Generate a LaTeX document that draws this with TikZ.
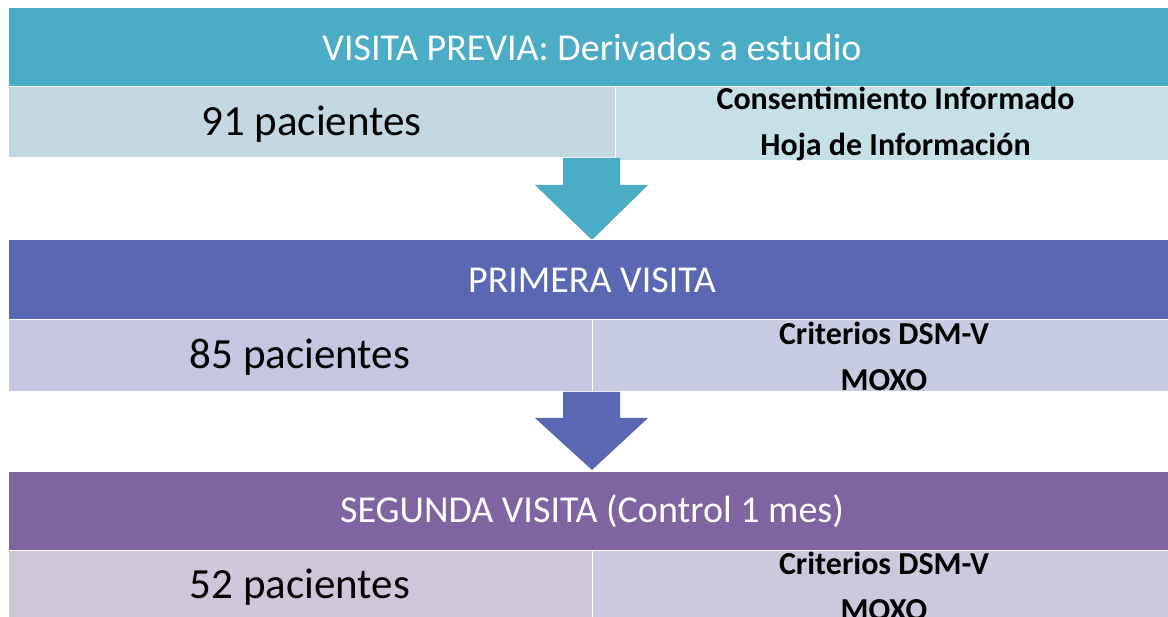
\documentclass[tikz,border=0pt]{standalone}
\usepackage{fontspec}
\setmainfont{Carlito}
\definecolor{hA}{HTML}{4BACC6}
\definecolor{hB}{HTML}{5A67B3}
\definecolor{hC}{HTML}{8064A2}
\definecolor{lA}{HTML}{C4D8E4}
\definecolor{rA}{HTML}{C6E0E8}
\definecolor{lB}{HTML}{C4C6E2}
\definecolor{rB}{HTML}{C8CCE3}
\definecolor{lC}{HTML}{CFC6DC}
\definecolor{rC}{HTML}{CDC8DD}
\tikzset{
  cell/.style={anchor=north west, inner sep=0pt, outer sep=0pt, draw=white, line width=1pt},
  headbox/.style={cell, text=white, font=\fontsize{38}{40}\selectfont},
  countbox/.style={cell, text=black, font=\fontsize{43}{46}\selectfont, text depth=4pt},
  notebox/.style={cell, text=black, align=center, font=\bfseries\fontsize{32}{46}\selectfont}
}
\begin{document}
\begin{tikzpicture}[x=1pt,y=-1pt]
\clip (0,0) rectangle (1168,617);
\fill[white] (0,0) rectangle (1168,617);
% stage 1
\node[headbox, fill=hA, minimum width=1168pt, minimum height=79pt] (h1) at (8,8) {VISITA PREVIA: Derivados a estudio};
\node[countbox, fill=lA, minimum width=607pt, minimum height=71pt] (c1) at (8,87) {91 pacientes};
\node[notebox, fill=rA, minimum width=561pt, minimum height=71pt] (n1) at (615,87) {Consentimiento Informado\\Hoja de Información};
\fill[hA] (563,158) -- (620,158) -- (620,185) -- (648,185) -- (592,240) -- (535,185) -- (563,185) -- cycle;
% stage 2
\node[headbox, fill=hB, minimum width=1168pt, minimum height=80pt] (h2) at (8,240) {PRIMERA VISITA};
\node[countbox, fill=lB, minimum width=584pt, minimum height=72pt] (c2) at (8,320) {85 pacientes};
\node[notebox, fill=rB, minimum width=584pt, minimum height=72pt] (n2) at (592,320) {Criterios DSM-V\\MOXO};
\fill[hB] (563,392) -- (620,392) -- (620,418) -- (648,418) -- (592,470) -- (535,418) -- (563,418) -- cycle;
% stage 3
\node[headbox, fill=hC, minimum width=1168pt, minimum height=78pt] (h3) at (8,472) {SEGUNDA VISITA (Control 1 mes)};
\node[countbox, fill=lC, minimum width=584pt, minimum height=72pt] (c3) at (8,550) {52 pacientes};
\node[notebox, fill=rC, minimum width=584pt, minimum height=72pt] (n3) at (592,550) {Criterios DSM-V\\MOXO};
\end{tikzpicture}
\end{document}
